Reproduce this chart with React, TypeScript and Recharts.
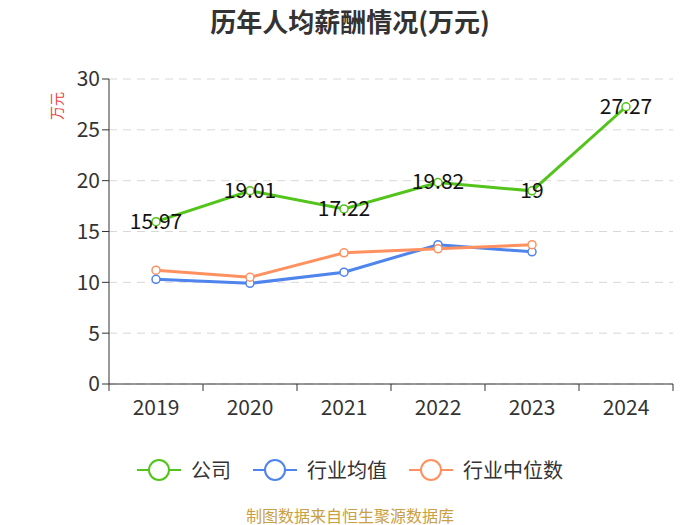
import React from 'react';
import { LineChart, Line, XAxis, YAxis, CartesianGrid, LabelList } from 'recharts';

const years = ['2019', '2020', '2021', '2022', '2023', '2024'];
const companyPay = [15.97, 19.01, 17.22, 19.82, 19, 27.27];
const industryAvg = [10.3, 9.9, 11.0, 13.7, 13.0, null];
const industryMedian = [11.2, 10.5, 12.9, 13.3, 13.7, null];
const yTicks = [0, 5, 10, 15, 20, 25, 30];

const seriesInfo = [
  { key: 'company', name: '公司', color: '#52c41a' },
  { key: 'avg', name: '行业均值', color: '#4e84ec' },
  { key: 'median', name: '行业中位数', color: '#ff9160' },
];

const data = years.map((y, i) => ({
  year: y,
  company: companyPay[i],
  avg: industryAvg[i],
  median: industryMedian[i],
}));

const FONT = '"Noto Sans CJK SC", "Noto Sans", sans-serif';
const BAND = 564 / years.length;

const XTick = (props: any) => {
  const { x, y, payload, index } = props;
  const left = x - BAND / 2;
  return (
    <g>
      <line x1={left} y1={y - 8} x2={left} y2={y - 1} stroke="#333" strokeWidth={1} />
      {index === years.length - 1 && (
        <line x1={x + BAND / 2} y1={y - 8} x2={x + BAND / 2} y2={y - 1} stroke="#333" strokeWidth={1} />
      )}
      <text x={x} y={y + 23} textAnchor="middle" fill="#333" fontSize={21} fontFamily={FONT}>
        {payload.value}
      </text>
    </g>
  );
};

const PointLabel = (props: any) => {
  const { x, y, value } = props;
  return (
    <text x={x} y={y} dy={7} textAnchor="middle" fill="#111" fontSize={21} fontFamily={FONT}>
      {value}
    </text>
  );
};

export default function App() {
  return (
    <div style={{ position: 'relative', width: 700, height: 525, background: '#fff', fontFamily: FONT }}>
      <style>{'body{margin:0}'}</style>
      <div
        style={{
          position: 'absolute', top: 8, width: 700, textAlign: 'center', fontSize: 26,
          lineHeight: '26px', fontWeight: 'bold', color: '#333',
        }}
      >
        历年人均薪酬情况(万元)
      </div>
      <div
        style={{
          position: 'absolute', left: 42, top: 99, fontSize: 14, lineHeight: '14px', color: '#e8403c',
          transform: 'rotate(-90deg)', width: 28, textAlign: 'center',
        }}
      >
        万元
      </div>
      <LineChart width={700} height={525} data={data} margin={{ top: 79, right: 27, bottom: 111, left: 49 }}>
        <CartesianGrid vertical={false} stroke="#d8d8d8" strokeDasharray="8 6" />
        <XAxis
          dataKey="year"
          scale="band"
          height={30}
          axisLine={{ stroke: '#333' }}
          tickLine={false}
          tick={<XTick />}
          interval={0}
        />
        <YAxis
          width={60}
          domain={[0, 30]}
          ticks={yTicks}
          axisLine={{ stroke: '#333' }}
          tickLine={{ stroke: '#333' }}
          tickSize={7}
          tick={{ fill: '#333', fontSize: 21, fontFamily: FONT }}
        />
        {seriesInfo.map((s) => (
          <Line
            key={s.key}
            dataKey={s.key}
            name={s.name}
            stroke={s.color}
            strokeWidth={3}
            dot={{ r: 4, fill: '#fff', stroke: s.color, strokeWidth: 1.5 }}
            activeDot={false}
            isAnimationActive={false}
          >
            {s.key === 'company' && <LabelList dataKey="company" content={<PointLabel />} />}
          </Line>
        ))}
      </LineChart>
      <div
        style={{
          position: 'absolute', top: 455, left: 0, width: 700, display: 'flex',
          justifyContent: 'center', alignItems: 'center', gap: 22,
        }}
      >
        {seriesInfo.map((s) => (
          <div key={s.key} style={{ display: 'flex', alignItems: 'center' }}>
            <svg width={44} height={24}>
              <line x1={0} y1={12} x2={44} y2={12} stroke={s.color} strokeWidth={2} />
              <circle cx={22} cy={12} r={10} fill="#fff" stroke={s.color} strokeWidth={2} />
            </svg>
            <span style={{ marginLeft: 10, fontSize: 20, color: '#333' }}>{s.name}</span>
          </div>
        ))}
      </div>
      <div
        style={{
          position: 'absolute', top: 506, width: 700, textAlign: 'center', fontSize: 16,
          lineHeight: '18px', color: '#c9a044',
        }}
      >
        制图数据来自恒生聚源数据库
      </div>
    </div>
  );
}
